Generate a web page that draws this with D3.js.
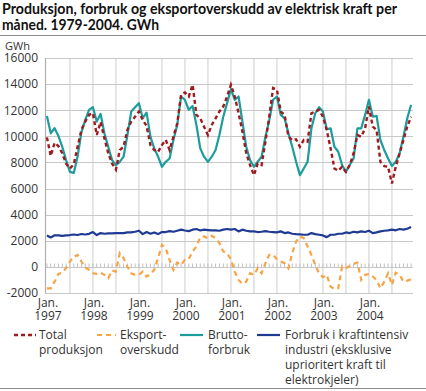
<!DOCTYPE html>
<html><head><meta charset="utf-8">
<script src="https://cdn.jsdelivr.net/npm/d3@7/dist/d3.min.js"></script>
<style>
body{margin:0;background:#fff}
svg text{font-family:'Open Sans','Noto Sans',sans-serif}
</style>
</head><body>
<svg id="chart" width="426" height="391"></svg>
<script>
const titleLines = ["Produksjon, forbruk og eksportoverskudd av elektrisk kraft per", "måned. 1979-2004. GWh"];
const unitLabel = "GWh";
const years = ["1997","1998","1999","2000","2001","2002","2003","2004"];
const yTicks = [-2000,0,2000,4000,6000,8000,10000,12000,14000,16000];

// Total produksjon (GWh per month, Jan 1997 - Dec 2004)
const production = [
  9920, 8500, 9500, 9250, 8700, 7900, 7540, 7850, 9200, 10500, 11130, 11650,
  11770, 10100, 11100, 9850, 8700, 7900, 7450, 8950, 9200, 10500, 11130, 11500,
  11900, 11250, 10800, 9330, 8950, 8800, 9330, 9720, 8950, 9970, 11000, 13180,
  13360, 13050, 13950, 11640, 11380, 10740, 10100, 10870, 11380, 11900, 12280, 13050,
  13950, 13050, 11770, 10360, 8700, 7800, 7030, 7920, 7800, 9590, 11500, 13700,
  13570, 11900, 11640, 10000, 9700, 9770, 9200, 9720, 9590, 11770, 11900, 12030,
  11510, 10490, 9080, 7540, 7360, 7670, 7280, 7800, 8690, 10100, 9970, 10615,
  12280, 10740, 10490, 8050, 7720, 7670, 6390, 7670, 8690, 9720, 10740, 11510
];
// Eksportoverskudd
const exportSurplus = [
  -1640, -1640, -1130, -540, -440, -100, 410, 790, 920, 410, -50, -230,
  -490, -540, -440, -610, -870, -280, -360, 1050, 670, 25, -490, -610,
  -610, -360, -740, -560, -230, 670, 1690, 1430, 540, -230, 330, 150,
  540, 590, 1180, 1560, 2280, 2330, 2200, 2380, 2200, 1820, 1180, 1050,
  590, -360, -1000, -1300, -1130, -490, -610, -100, -490, 280, 920, 920,
  590, 410, 280, -100, 1050, 1950, 2330, 2200, 1560, 920, 150, -490,
  -790, -610, -1510, -1690, -1640, 25, -100, 75, 230, 330, -1000, -610,
  -540, -740, -1000, -1640, -1130, -490, -1380, -440, -610, -1130, -1050, -950
];
// Bruttoforbruk
const grossConsumption = [
  11560, 10230, 10620, 10030, 9200, 8180, 7280, 7200, 8440, 10300, 11260, 12030,
  12230, 11130, 11720, 10230, 9200, 8180, 7800, 8050, 8440, 10100, 11900, 12230,
  12540, 11390, 11820, 9980, 9080, 8440, 7670, 8050, 8300, 9720, 10870, 13050,
  12800, 12030, 12330, 10870, 9080, 8440, 8050, 8440, 8950, 10100, 11500, 12540,
  13620, 12800, 13050, 11130, 9200, 8180, 7670, 8050, 8440, 9970, 11200, 12800,
  13050, 11640, 11380, 10230, 9200, 8050, 7030, 7540, 8050, 10615, 11770, 12230,
  11900, 10540, 10615, 9200, 8820, 7800, 7280, 7800, 8300, 10615, 10615, 11640,
  12800, 11510, 11560, 9720, 8950, 8300, 7720, 8050, 8690, 9970, 11380, 12410
];
// Forbruk i kraftintensiv industri
const industry = [
  2400, 2250, 2420, 2420, 2380, 2420, 2440, 2480, 2440, 2520, 2480, 2530,
  2670, 2440, 2590, 2540, 2560, 2560, 2590, 2590, 2590, 2640, 2640, 2690,
  2770, 2510, 2670, 2540, 2640, 2510, 2670, 2670, 2740, 2690, 2770, 2850,
  2790, 2740, 2850, 2900, 2790, 2850, 2820, 2790, 2790, 2770, 2850, 2900,
  2850, 2900, 2720, 2850, 2770, 2720, 2720, 2670, 2690, 2740, 2690, 2670,
  2640, 2720, 2590, 2640, 2540, 2510, 2490, 2460, 2460, 2590, 2510, 2460,
  2410, 2280, 2460, 2460, 2540, 2540, 2640, 2590, 2690, 2640, 2720, 2670,
  2770, 2590, 2640, 2720, 2770, 2800, 2850, 2800, 2900, 2850, 2920, 3050
];

const seriesNames = [
  ["Total", "produksjon"],
  ["Eksport-", "overskudd"],
  ["Brutto-", "forbruk"],
  ["Forbruk i kraftintensiv", "industri (eksklusive", "uprioritert kraft til", "elektrokjeler)"]
];
const colors = {prod:"#9e1a1f", exp:"#f7a446", cons:"#1c9c9c", ind:"#1f3a93"};

const svg = d3.select("#chart");
const W = 426, H = 391;
const months = d3.range(production.length);
const x = d3.scaleBand().domain(months).range([45, 413]);
const cx = i => x(i) + x.bandwidth() / 2;
const y = d3.scaleLinear().domain([-2000, 16000]).range([293, 58]);

// title
const titleWidths = [395, 157];
const title = svg.append("text").attr("fill", "#111").attr("font-weight", "bold")
  .attr("font-size", 14.5).style("font-family", "Lato, 'Open Sans', sans-serif");
titleLines.forEach((t, k) => title.append("tspan").attr("x", 2).attr("y", 14 + k * 16)
  .attr("textLength", titleWidths[k]).attr("lengthAdjust", "spacingAndGlyphs").text(t));

svg.append("line").attr("x1", 0).attr("x2", W).attr("y1", 35.5).attr("y2", 35.5).attr("stroke", "#8c8c8c");
svg.append("line").attr("x1", 0).attr("x2", W).attr("y1", 388.5).attr("y2", 388.5).attr("stroke", "#8c8c8c");

// gridlines
const g = svg.append("g");
g.selectAll(".vg").data(months.filter(i => i % 6 === 0 && i > 0)).join("line")
  .attr("x1", d => cx(d)).attr("x2", d => cx(d))
  .attr("y1", y(16000)).attr("y2", y(-2000))
  .attr("stroke", "#d9d9d9").attr("stroke-width", 1.3);
g.selectAll(".hg").data(yTicks).join("line")
  .attr("x1", 45).attr("x2", 413)
  .attr("y1", d => Math.round(y(d)) + 0.5).attr("y2", d => Math.round(y(d)) + 0.5)
  .attr("stroke", "#c8c8c8").attr("stroke-width", 1.2);
g.append("line").attr("x1", 45.5).attr("x2", 45.5).attr("y1", y(16000)).attr("y2", y(-2000))
  .attr("stroke", "#b0b0b0").attr("stroke-width", 1.2);
// monthly ticks on zero line
const y0 = Math.round(y(0)) + 0.5;
g.selectAll(".mt").data(months).join("line")
  .attr("x1", d => cx(d)).attr("x2", d => cx(d))
  .attr("y1", y0).attr("y2", y0 - 4)
  .attr("stroke", "#c0c0c0").attr("stroke-width", 1);

// y labels
svg.append("text").attr("x", 5).attr("y", 50).attr("font-size", 11).attr("fill", "#333").text(unitLabel);
svg.selectAll(".yl").data(yTicks).join("text")
  .attr("x", 38).attr("y", d => y(d)).attr("dy", "0.36em")
  .attr("text-anchor", "end").attr("font-size", 12).attr("fill", "#333")
  .text(d => d);

// x labels
years.forEach((yr, k) => {
  const xi = cx(k * 12) + 1;
  const t = svg.append("text").attr("text-anchor", "middle").attr("font-size", 12).attr("fill", "#333");
  t.append("tspan").attr("x", xi).attr("y", 307).text("Jan.");
  t.append("tspan").attr("x", xi).attr("y", 320).text(yr);
});

// lines
const line = d3.line().x((d, i) => cx(i)).y(d => y(d));
const plot = svg.append("g");
plot.append("path").datum(grossConsumption).attr("d", line).attr("fill", "none")
  .attr("stroke", colors.cons).attr("stroke-width", 2.2).attr("stroke-linejoin", "round");
plot.append("path").datum(industry).attr("d", line).attr("fill", "none")
  .attr("stroke", colors.ind).attr("stroke-width", 2.2).attr("stroke-linejoin", "round");
plot.append("path").datum(exportSurplus).attr("d", line).attr("fill", "none")
  .attr("stroke", colors.exp).attr("stroke-width", 2.2).attr("stroke-dasharray", "5,4");
plot.append("path").datum(production).attr("d", line).attr("fill", "none")
  .attr("stroke", colors.prod).attr("stroke-width", 2.4).attr("stroke-dasharray", "4,3");

// legend
const legendItems = [
  {x1: 14, x2: 36, tx: 39, color: colors.prod, dash: "4,3", w: 2.4},
  {x1: 97, x2: 116, tx: 120, color: colors.exp, dash: "5,4", w: 2.2},
  {x1: 180, x2: 203, tx: 208, color: colors.cons, dash: null, w: 2.2},
  {x1: 257, x2: 280, tx: 285, color: colors.ind, dash: null, w: 2.2}
];
legendItems.forEach((it, k) => {
  const ln = svg.append("line").attr("x1", it.x1).attr("x2", it.x2).attr("y1", 335).attr("y2", 335)
    .attr("stroke", it.color).attr("stroke-width", it.w);
  if (it.dash) ln.attr("stroke-dasharray", it.dash);
  const t = svg.append("text").attr("font-size", 12).attr("fill", "#333");
  seriesNames[k].forEach((s, j) => t.append("tspan").attr("x", it.tx).attr("y", 339 + j * 15).text(s));
});
</script>
</body></html>
